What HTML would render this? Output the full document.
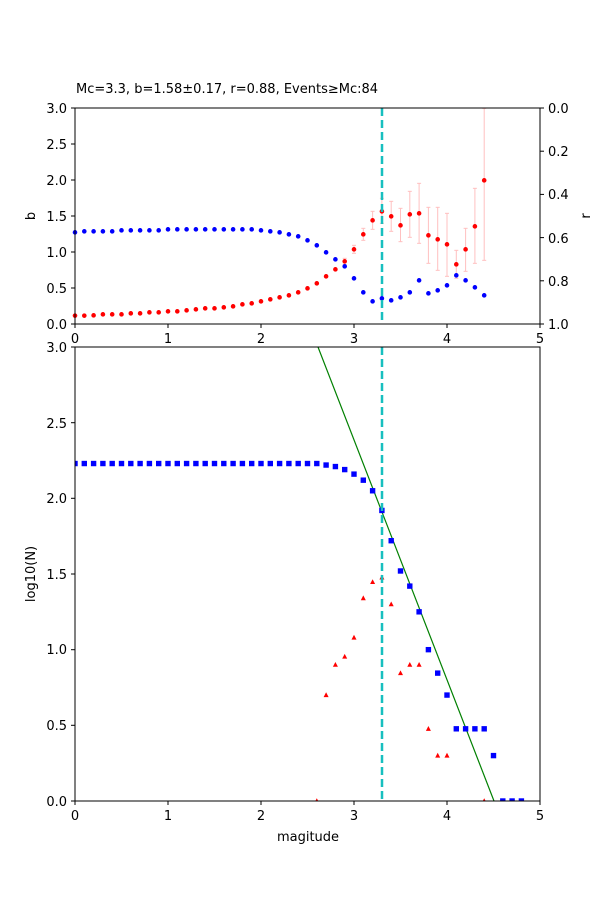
<!DOCTYPE html>
<html><head><meta charset="utf-8"><style>
body{margin:0;background:#fff;width:600px;height:900px;overflow:hidden}
svg{font-family:"DejaVu Sans","Liberation Sans",sans-serif;font-size:13px}
</style></head><body>
<svg id="s" width="600" height="900" xmlns="http://www.w3.org/2000/svg">
<rect width="600" height="900" fill="#fff"/>
<text x="76" y="93" font-size="13">Mc=3.3, b=1.58±0.17, r=0.88, Events≥Mc:84</text>
<g id="gtop"></g>
<g id="gbot"></g>
<rect x="75" y="108" width="465" height="216" fill="none" stroke="#000" stroke-width="1"/>
<rect x="75" y="347" width="465" height="454" fill="none" stroke="#000" stroke-width="1"/>
<g text-anchor="end">
<text x="67" y="113">3.0</text><text x="67" y="149">2.5</text><text x="67" y="185">2.0</text><text x="67" y="221">1.5</text><text x="67" y="257">1.0</text><text x="67" y="293">0.5</text><text x="67" y="329">0.0</text>
<text x="67" y="352">3.0</text><text x="67" y="428">2.5</text><text x="67" y="503">2.0</text><text x="67" y="579">1.5</text><text x="67" y="654">1.0</text><text x="67" y="730">0.5</text><text x="67" y="806">0.0</text>
</g>
<g stroke="#000">
<line x1="71" x2="75" y1="108" y2="108"/><line x1="71" x2="75" y1="144" y2="144"/><line x1="71" x2="75" y1="180" y2="180"/><line x1="71" x2="75" y1="216" y2="216"/><line x1="71" x2="75" y1="252" y2="252"/><line x1="71" x2="75" y1="288" y2="288"/><line x1="71" x2="75" y1="324" y2="324"/>
<line x1="540" x2="544" y1="108" y2="108"/><line x1="540" x2="544" y1="151.2" y2="151.2"/><line x1="540" x2="544" y1="194.4" y2="194.4"/><line x1="540" x2="544" y1="237.6" y2="237.6"/><line x1="540" x2="544" y1="280.8" y2="280.8"/><line x1="540" x2="544" y1="324" y2="324"/>
<line x1="71" x2="75" y1="347" y2="347"/><line x1="71" x2="75" y1="422.7" y2="422.7"/><line x1="71" x2="75" y1="498.3" y2="498.3"/><line x1="71" x2="75" y1="574" y2="574"/><line x1="71" x2="75" y1="649.7" y2="649.7"/><line x1="71" x2="75" y1="725.3" y2="725.3"/><line x1="71" x2="75" y1="801" y2="801"/>
<line x1="75" x2="75" y1="324" y2="328"/><line x1="168" x2="168" y1="324" y2="328"/><line x1="261" x2="261" y1="324" y2="328"/><line x1="354" x2="354" y1="324" y2="328"/><line x1="447" x2="447" y1="324" y2="328"/><line x1="540" x2="540" y1="324" y2="328"/>
<line x1="75" x2="75" y1="801" y2="805"/><line x1="168" x2="168" y1="801" y2="805"/><line x1="261" x2="261" y1="801" y2="805"/><line x1="354" x2="354" y1="801" y2="805"/><line x1="447" x2="447" y1="801" y2="805"/><line x1="540" x2="540" y1="801" y2="805"/>
</g>
<g>
<text x="548" y="113">0.0</text><text x="548" y="156">0.2</text><text x="548" y="199">0.4</text><text x="548" y="243">0.6</text><text x="548" y="286">0.8</text><text x="548" y="329">1.0</text>
</g>
<g text-anchor="middle">
<text x="75" y="343">0</text><text x="168" y="343">1</text><text x="261" y="343">2</text><text x="354" y="343">3</text><text x="447" y="343">4</text><text x="540" y="343">5</text>
<text x="75" y="820">0</text><text x="168" y="820">1</text><text x="261" y="820">2</text><text x="354" y="820">3</text><text x="447" y="820">4</text><text x="540" y="820">5</text>
<text x="308" y="841">magitude</text>
</g>
<text transform="translate(35,216) rotate(-90)" text-anchor="middle">b</text>
<text transform="translate(590,216) rotate(-90)" text-anchor="middle">r</text>
<text transform="translate(35,574) rotate(-90)" text-anchor="middle">log10(N)</text>
</svg>
<script>
(function(){
var NS="http://www.w3.org/2000/svg";
function el(p,t,a){var e=document.createElementNS(NS,t);for(var k in a)e.setAttribute(k,a[k]);p.appendChild(e);return e;}
var gTop=document.getElementById("gtop"),gBot=document.getElementById("gbot");
var red=[647,647,646,643,643,643,640,640,637,637,634,634,631,628,625,625,622,619,613,610,604,598,592,586,577,565,550,529,508,484,448,403,361,334,349,376,343,340,406,418,433,493,448,379,241];
var blue=[397,394,394,394,394,391,391,391,391,391,388,388,388,388,388,388,388,388,388,388,391,394,397,403,409,421,436,457,478,499,535,577,604,595,601,592,577,541,580,571,556,526,541,562,586];
var err={29:[475,493],30:[436,460],31:[385,421],32:[334,388],33:[295,370],34:[304,394],35:[325,425],36:[274,412],37:[250,430],38:[322,490],39:[322,511],40:[340,529],41:[451,535],42:[385,514],43:[265,490],44:[25,481]};
function X(m){return 75+m*93;}
for(var i in err){var x=X(i*0.1);var a=100+err[i][0]/3,b=100+err[i][1]/3;
el(gTop,"line",{x1:x,x2:x,y1:a,y2:b,stroke:"#ffc0c0","stroke-width":1});
el(gTop,"line",{x1:x-2,x2:x+2,y1:a,y2:a,stroke:"#ffc0c0"});el(gTop,"line",{x1:x-2,x2:x+2,y1:b,y2:b,stroke:"#ffc0c0"});}
for(var i=0;i<45;i++){el(gTop,"circle",{cx:X(i*0.1),cy:100+blue[i]/3,r:2.3,fill:"#0000ff"});}
for(var i=0;i<45;i++){el(gTop,"circle",{cx:X(i*0.1),cy:100+red[i]/3,r:2.3,fill:"#ff0000"});}
el(gTop,"line",{x1:382,x2:382,y1:108,y2:324,stroke:"#17bfbf","stroke-width":2.5,"stroke-dasharray":"8,4"});
function Y(v){return 801-v*151.33;}
var sq=[];for(var i=0;i<=26;i++)sq.push([i*0.1,2.23]);
sq=sq.concat([[2.7,2.22],[2.8,2.21],[2.9,2.19],[3.0,2.16],[3.1,2.12],[3.2,2.05],[3.3,1.92],[3.4,1.72],[3.5,1.52],[3.6,1.42],[3.7,1.25],[3.8,1.0],[3.9,0.845],[4.0,0.7],[4.1,0.477],[4.2,0.477],[4.3,0.477],[4.4,0.477],[4.5,0.3],[4.6,0],[4.7,0],[4.8,0]]);
var tri=[[2.6,0],[2.7,0.7],[2.8,0.9],[2.9,0.954],[3.0,1.08],[3.1,1.34],[3.2,1.447],[3.3,1.477],[3.4,1.3],[3.5,0.845],[3.6,0.9],[3.7,0.9],[3.8,0.477],[3.9,0.3],[4.0,0.3],[4.4,0]];
var cp=el(gBot,"clipPath",{id:"c"});el(cp,"rect",{x:75,y:347,width:465,height:454});
var g=el(gBot,"g",{"clip-path":"url(#c)"});
tri.forEach(function(p){var x=X(p[0]),y=Y(p[1]);el(g,"polygon",{points:(x-2.5)+","+(y+2)+" "+(x+2.5)+","+(y+2)+" "+x+","+(y-2.8),fill:"#ff0000"});});
el(g,"line",{x1:318,y1:347,x2:494,y2:801,stroke:"#008000","stroke-width":1.2});
sq.forEach(function(p){el(g,"rect",{x:X(p[0])-2.7,y:Y(p[1])-2.7,width:5.4,height:5.4,fill:"#0000ff"});});
el(g,"line",{x1:382,x2:382,y1:347,y2:801,stroke:"#17bfbf","stroke-width":2.5,"stroke-dasharray":"8,4"});
})();
</script>
</body></html>
